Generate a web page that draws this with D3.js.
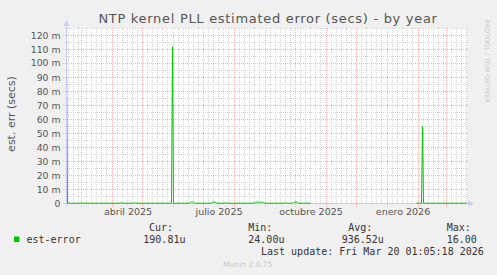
<!DOCTYPE html>
<html>
<head>
<meta charset="utf-8">
<script src="https://cdn.jsdelivr.net/npm/d3@7"></script>
<style>
  html, body { margin: 0; padding: 0; background: #f0f0f0; }
  #chart { width: 497px; height: 275px; }
  svg { display: block; }
</style>
</head>
<body>
<div id="chart"></div>
<script>
// y axis ticks (seconds) and their labels
const yTickValues = [0, 0.01, 0.02, 0.03, 0.04, 0.05, 0.06, 0.07, 0.08, 0.09, 0.10, 0.11, 0.12];
const yTickLabels = ['0', '10 m', '20 m', '30 m', '40 m', '50 m', '60 m', '70 m', '80 m', '90 m', '100 m', '110 m', '120 m'];

// x axis labels, centred mid-month
const monthLabels = ['abril 2025', 'julio 2025', 'octubre 2025', 'enero 2026'];
const monthLabelDates = ['2025-04-16T12:00Z', '2025-07-16T12:00Z', '2025-10-16T12:00Z', '2026-01-16T12:00Z'];

// est-error samples (null = no data)
const seriesDates = [
  '2025-02-14T00:00Z', '2025-02-15T00:00Z', '2025-02-28T00:00Z', '2025-03-01T00:00Z', '2025-03-02T00:00Z',
  '2025-04-09T00:00Z', '2025-04-10T00:00Z', '2025-04-11T00:00Z', '2025-04-22T00:00Z', '2025-04-23T00:00Z',
  '2025-04-24T00:00Z', '2025-05-30T00:00Z', '2025-05-31T00:00Z', '2025-06-01T00:00Z', '2025-06-17T00:00Z',
  '2025-06-18T00:00Z', '2025-06-21T00:00Z', '2025-06-22T00:00Z', '2025-07-09T00:00Z', '2025-07-10T00:00Z',
  '2025-07-13T00:00Z', '2025-07-14T00:00Z', '2025-07-22T00:00Z', '2025-07-23T00:00Z', '2025-07-24T00:00Z',
  '2025-08-21T00:00Z', '2025-08-22T00:00Z', '2025-08-26T00:00Z', '2025-08-27T00:00Z', '2025-08-28T00:00Z',
  '2025-08-30T00:00Z', '2025-08-31T00:00Z', '2025-09-20T00:00Z', '2025-09-21T00:00Z', '2025-09-22T00:00Z',
  '2025-09-28T00:00Z', '2025-09-29T00:00Z', '2025-10-03T00:00Z', '2025-10-04T00:00Z', '2025-10-16T00:00Z',
  '2025-10-17T00:00Z', '2026-01-30T00:00Z', '2026-02-04T00:00Z', '2026-02-05T00:00Z', '2026-02-06T00:00Z',
  '2026-03-21T12:00Z'
];
const seriesValues = [
  0.1, 0.0002, 0.0002, 0.001, 0.0002,
  0.0002, 0.001, 0.0002, 0.0002, 0.001,
  0.0002, 0.0002, 0.112, 0.0002, 0.0002,
  0.001, 0.001, 0.0002, 0.0002, 0.001,
  0.001, 0.0002, 0.0002, 0.001, 0.0002,
  0.0002, 0.001, 0.001, 0.0002, 0.001,
  0.001, 0.0002, 0.0002, 0.001, 0.0002,
  0.0002, 0.001, 0.001, 0.0002, 0.0002,
  null, 0.0002, 0.0002, 0.055, 0.0002,
  0.00019
];

const statNames = ['Cur:', 'Min:', 'Avg:', 'Max:'];
const statValues = ['190.81u', '24.00u', '936.52u', '16.00'];
const seriesName = 'est-error';
const lastUpdate = 'Last update: Fri Mar 20 01:05:18 2026';

class YearGraph {

  constructor(d3, id) {
    this.d3 = d3;
    this.width = 497;
    this.height = 275;
    this.scene = d3.select('#' + id).append('svg')
      .attr('width', this.width)
      .attr('height', this.height);

    // plot area 400 x 175, one pixel per day
    const start = new Date('2025-02-14T12:00:00Z');
    const end = new Date(start.getTime() + 400 * 864e5);
    this.x = d3.scaleUtc().domain([start, end]).range([67, 467]);
    this.y = d3.scaleLinear().domain([0, 0.125]).range([203.5, 28.5]);
  }

  draw() {
    this.scene.append('rect')
      .attr('width', this.width).attr('height', this.height).attr('fill', '#f0f0f0');
    this.scene.append('rect')
      .attr('x', 67).attr('y', 28).attr('width', 400).attr('height', 175).attr('fill', '#fff');
    this.drawGrid();
    this.drawAxes();
    this.drawSeries();
    this.drawTexts();
    this.drawLegend();
  }

  drawGrid() {
    const d3 = this.d3;
    const g = this.scene.append('g').attr('shape-rendering', 'crispEdges');
    const [t0, t1] = this.x.domain();
    const minorColor = '#d6d6d6';
    const majorColor = '#f2b4b4';

    // minor vertical lines on day 6, 11, 16, 21, 26
    const minorDays = d3.utcDay.range(t0, t1).filter(d => [6, 11, 16, 21, 26].includes(d.getUTCDate()));
    g.selectAll('.vminor').data(minorDays).join('line')
      .attr('x1', d => this.x(d)).attr('x2', d => this.x(d))
      .attr('y1', 28).attr('y2', 204)
      .attr('stroke', minorColor).attr('stroke-dasharray', '1,1');

    // minor horizontal lines every 5 m
    const minorY = d3.range(0.005, 0.1251, 0.01);
    g.selectAll('.hminor').data(minorY).join('line')
      .attr('x1', 65).attr('x2', 469)
      .attr('y1', d => Math.round(this.y(d) - 0.5) + 0.5).attr('y2', d => Math.round(this.y(d) - 0.5) + 0.5)
      .attr('stroke', minorColor).attr('stroke-dasharray', '1,1');

    // major lines: month starts and every 10 m
    const months = d3.utcMonth.range(t0, t1);
    g.selectAll('.vmajor').data(months).join('line')
      .attr('x1', d => this.x(d)).attr('x2', d => this.x(d))
      .attr('y1', 28).attr('y2', 207)
      .attr('stroke', majorColor).attr('stroke-dasharray', '1,1');
    g.selectAll('.hmajor').data(yTickValues.slice(1)).join('line')
      .attr('x1', 63).attr('x2', 469)
      .attr('y1', d => Math.round(this.y(d) - 0.5) + 0.5).attr('y2', d => Math.round(this.y(d) - 0.5) + 0.5)
      .attr('stroke', majorColor).attr('stroke-dasharray', '1,1');
  }

  drawAxes() {
    const axisColor = '#c8cbf5';
    const g = this.scene.append('g');
    g.append('line')
      .attr('x1', 63).attr('x2', 470).attr('y1', 203.5).attr('y2', 203.5)
      .attr('stroke', axisColor).attr('shape-rendering', 'crispEdges');
    g.append('line')
      .attr('x1', 66.5).attr('x2', 66.5).attr('y1', 206).attr('y2', 24)
      .attr('stroke', axisColor).attr('shape-rendering', 'crispEdges');
    // arrow heads
    g.append('path').attr('d', 'M63.5,26 L66.5,20 L69.5,26 Z').attr('fill', axisColor);
    g.append('path').attr('d', 'M468,200.5 L474,203.5 L468,206.5 Z').attr('fill', axisColor);
  }

  drawSeries() {
    const d3 = this.d3;
    const points = seriesDates.map((d, i) => ({ date: new Date(d), value: seriesValues[i] }));
    this.scene.append('clipPath').attr('id', 'plot-clip')
      .append('rect').attr('x', 67).attr('y', 20).attr('width', 400).attr('height', 185);
    const line = d3.line()
      .defined(d => d.value !== null)
      .x(d => this.x(d.date))
      .y(d => this.y(d.value));
    this.scene.append('path')
      .datum(points)
      .attr('clip-path', 'url(#plot-clip)')
      .attr('d', line)
      .attr('fill', 'none')
      .attr('stroke', '#00cc00')
      .attr('stroke-width', 1);
  }

  drawTexts() {
    const sans = 'DejaVu Sans, sans-serif';
    // y tick labels
    this.scene.append('g').selectAll('text').data(yTickValues).join('text')
      .attr('x', 60.5)
      .attr('y', d => Math.round(this.y(d)) + 3)
      .attr('text-anchor', 'end')
      .attr('font-family', sans).attr('font-size', 9.3).attr('fill', '#555')
      .text((d, i) => yTickLabels[i]);

    // x labels
    this.scene.append('g').selectAll('text').data(monthLabels).join('text')
      .attr('x', (d, i) => this.x(new Date(monthLabelDates[i])))
      .attr('y', 215)
      .attr('text-anchor', 'middle')
      .attr('font-family', sans).attr('font-size', 9.5).attr('fill', '#555')
      .text(d => d);

    this.scene.append('text')
      .attr('x', 268).attr('y', 23)
      .attr('text-anchor', 'middle')
      .attr('font-family', sans).attr('font-size', 13).attr('letter-spacing', 0.7).attr('fill', '#555')
      .text('NTP kernel PLL estimated error (secs) - by year');

    this.scene.append('text')
      .attr('transform', 'translate(14.5,114) rotate(-90)')
      .attr('text-anchor', 'middle')
      .attr('font-family', sans).attr('font-size', 11).attr('fill', '#555')
      .text('est. err (secs)');

    this.scene.append('text')
      .attr('transform', 'translate(485,61) rotate(90)')
      .attr('text-anchor', 'middle')
      .attr('font-family', sans).attr('font-size', 6.5).attr('fill', '#c8c8c8')
      .text('RRDTOOL / TOBI OETIKER');

    this.scene.append('text')
      .attr('x', 223.3).attr('y', 266.7)
      .attr('font-family', sans).attr('font-size', 7.5).attr('fill', '#c8c8c8')
      .text('Munin 2.0.75');
  }

  drawLegend() {
    const mono = 'DejaVu Sans Mono, monospace';
    const g = this.scene.append('g')
      .attr('font-family', mono).attr('font-size', 10).attr('fill', '#333');
    g.append('rect')
      .attr('x', 14).attr('y', 236.5).attr('width', 5.5).attr('height', 5.5).attr('fill', '#00cc00');
    g.append('text').attr('x', 26.5).attr('y', 242.5).text(seriesName);

    const nameX = [149, 248.3, 348.3, 446.7];
    const valueX = [143.3, 248.3, 341.7, 446.7];
    g.selectAll('.stat-name').data(statNames).join('text')
      .attr('x', (d, i) => nameX[i]).attr('y', 230.7).text(d => d);
    g.selectAll('.stat-value').data(statValues).join('text')
      .attr('x', (d, i) => valueX[i]).attr('y', 242.5).text(d => d);

    g.append('text').attr('x', 261).attr('y', 255).text(lastUpdate);
  }
}

new YearGraph(d3, 'chart').draw();
</script>
</body>
</html>
